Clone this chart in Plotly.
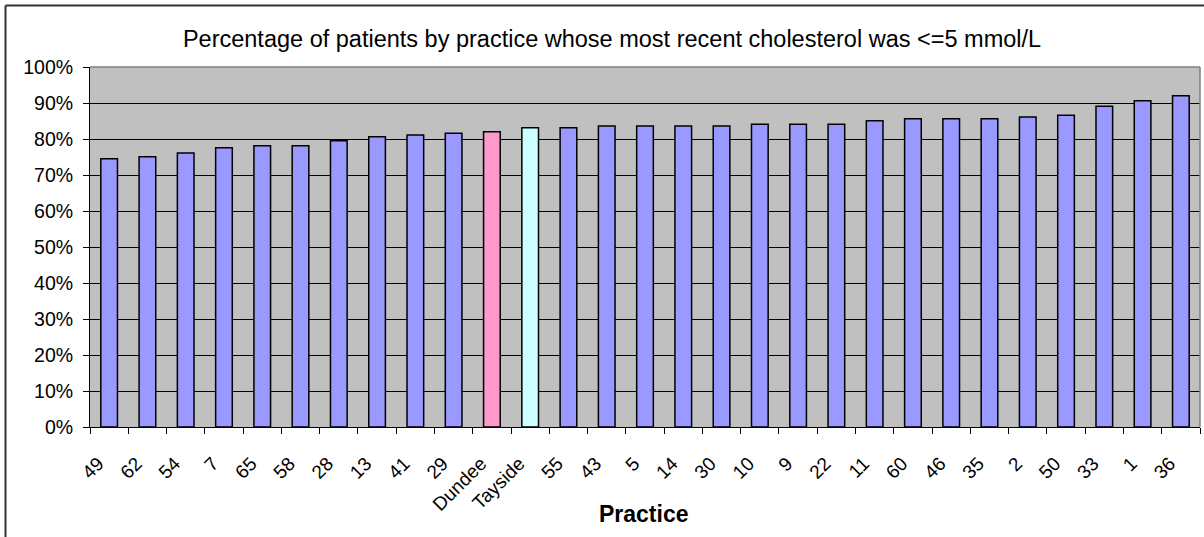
import plotly.graph_objects as go

practices = ["49", "62", "54", "7", "65", "58", "28", "13", "41", "29", "Dundee", "Tayside",
             "55", "43", "5", "14", "30", "10", "9", "22", "11", "60", "46", "35", "2", "50",
             "33", "1", "36"]
pct_values = [74.5, 75.1, 76.1, 77.6, 78.1, 78.1, 79.5, 80.6, 81.1, 81.6, 82.0, 83.1,
              83.1, 83.6, 83.6, 83.6, 83.6, 84.1, 84.1, 84.1, 85.1, 85.6, 85.6, 85.6, 86.1, 86.6,
              89.1, 90.6, 92.0]
highlight_colors = {"Dundee": "#FF99CC", "Tayside": "#CCFFFF"}
default_color = "#9999FF"
y_ticks = list(range(0, 101, 10))
y_tick_labels = [f"{v}%" for v in y_ticks]

title_text = "Percentage of patients by practice whose most recent cholesterol was <=5 mmol/L"
FONT = "Liberation Sans, Arial, sans-serif"

colors = [highlight_colors.get(p, default_color) for p in practices]

fig = go.Figure(go.Bar(
    x=practices, y=pct_values,
    marker=dict(color=colors, line=dict(color="black", width=1.5)),
    hovertemplate="%{x}: %{y}%<extra></extra>",
))

W, H = 1204, 537
L, R, T, B = 90, 4, 67, 110
pw, ph = W - L - R, H - T - B

def px_x(p):
    return (p - L) / pw

def px_y(p):
    return (H - B - p) / ph

fig.update_layout(
    width=W, height=H,
    margin=dict(l=L, r=R, t=T, b=B, pad=0),
    paper_bgcolor="white",
    plot_bgcolor="#C0C0C0",
    bargap=0.565,
    showlegend=False,
    font=dict(family=FONT, color="black", size=19),
    title=dict(text=title_text, x=612 / W, xanchor="center", xref="container",
               y=1 - 38.5 / H, yanchor="middle", yref="container",
               font=dict(family=FONT, size=23.5, color="black")),
    xaxis=dict(type="category", tickangle=-45, ticks="outside", ticklen=6,
               tickcolor="black", tickwidth=1, tickson="boundaries",
               showline=True, linecolor="black", linewidth=1,
               showgrid=False, tickfont=dict(size=19, family=FONT),
               ticklabelstandoff=17, ticklabelshift=-11, automargin=False),
    yaxis=dict(range=[0, 100], tickvals=y_ticks, ticktext=y_tick_labels,
               ticks="outside", ticklen=6, tickcolor="black", tickwidth=1,
               showline=True, linecolor="black", linewidth=1,
               showgrid=True, gridcolor="black", gridwidth=1, zeroline=False,
               tickfont=dict(size=19.5, family=FONT), ticklabelstandoff=6,
               automargin=False),
    annotations=[dict(text="<b>Practice</b>", x=(643.5 - L) / pw, y=px_y(514),
                      xref="paper", yref="paper", xanchor="center", yanchor="middle",
                      showarrow=False, font=dict(family=FONT, size=23, color="black"))],
    shapes=[
        # plot area top and right border
        dict(type="line", xref="paper", yref="paper", x0=0, x1=1, y0=1, y1=1,
             line=dict(color="#808080", width=1.5), layer="above"),
        dict(type="line", xref="paper", yref="paper", x0=1, x1=1, y0=0, y1=1,
             line=dict(color="#808080", width=1.5), layer="above"),
        # chart frame (left and top)
        dict(type="line", xref="paper", yref="paper", x0=px_x(5.5), x1=px_x(1210),
             y0=px_y(5.5), y1=px_y(5.5), line=dict(color="#333333", width=2)),
        dict(type="line", xref="paper", yref="paper", x0=px_x(5.5), x1=px_x(5.5),
             y0=px_y(5.5), y1=px_y(545), line=dict(color="#333333", width=2)),
    ],
)

fig.write_html("out.html", config={"displayModeBar": False},
               post_script="document.body.style.margin='0';")
